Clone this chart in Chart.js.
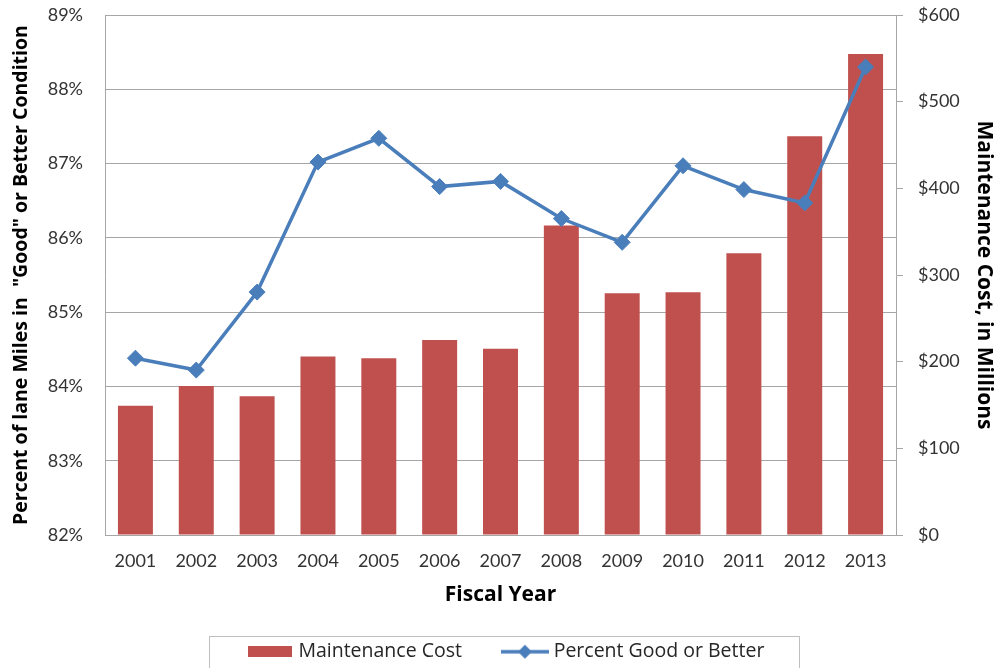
<!DOCTYPE html>
<html>
<head>
<meta charset="utf-8">
<title>Maintenance Cost and Lane Mile Condition</title>
<script src="https://cdn.jsdelivr.net/npm/chart.js@4.4.0/dist/chart.umd.min.js"></script>
<style>
  body { margin: 0; background: #fff; }
  canvas { display: block; }
</style>
</head>
<body>
<canvas id="conditionChart" width="996" height="668"></canvas>
<script>
const years = ["2001", "2002", "2003", "2004", "2005", "2006", "2007", "2008", "2009", "2010", "2011", "2012", "2013"];
const maintenanceCost = [149, 172, 160, 206, 204, 225, 215, 357, 279, 280, 325, 460, 555];
const percentGood = [84.38, 84.22, 85.27, 87.02, 87.34, 86.69, 86.76, 86.26, 85.94, 86.97, 86.65, 86.47, 88.30];
const percentRange = [82, 89];
const costRange = [0, 600];

const barColor = "#C0504D";
const lineColor = "#4A7EBB";
const gridColor = "#A6A6A6";

// small swatches for the legend: a plain bar block and a line with a diamond
const makeSwatch = (w, h, draw) => {
  const c = document.createElement("canvas");
  c.width = w;
  c.height = h;
  draw(c.getContext("2d"));
  return c;
};
const barSwatch = makeSwatch(44, 11, ctx => {
  ctx.fillStyle = barColor;
  ctx.fillRect(0, 0, 44, 11);
});
const lineSwatch = makeSwatch(48, 18, ctx => {
  ctx.strokeStyle = lineColor;
  ctx.lineWidth = 3.5;
  ctx.beginPath();
  ctx.moveTo(0, 9);
  ctx.lineTo(48, 9);
  ctx.stroke();
  ctx.fillStyle = lineColor;
  ctx.beginPath();
  ctx.moveTo(24, 2);
  ctx.lineTo(31, 9);
  ctx.lineTo(24, 16);
  ctx.lineTo(17, 9);
  ctx.closePath();
  ctx.fill();
});

// thin grey frame round the legend entries
const legendFrame = {
  id: "legendFrame",
  afterDraw(chart) {
    const boxes = chart.legend && chart.legend.legendHitBoxes;
    if (!boxes || !boxes.length) return;
    const first = boxes[0];
    const last = boxes[boxes.length - 1];
    const left = Math.round(first.left - 42) + 0.5;
    const right = Math.round(last.left + last.width + 35) + 0.5;
    const top = Math.round(first.top - 6) + 0.5;
    const ctx = chart.ctx;
    ctx.save();
    ctx.strokeStyle = "#BFBFBF";
    ctx.lineWidth = 1;
    ctx.strokeRect(left, top, right - left, 80);
    ctx.restore();
  }
};

// keep the plot area flush with the layout padding
const noVerticalPad = scale => {
  scale.paddingTop = 0;
  scale.paddingBottom = 0;
};

const tickFont = { family: "Lato", size: 18 };
const titleFont = { family: "Open Sans", size: 21, weight: "bold" };

new Chart(document.getElementById("conditionChart"), {
  type: "bar",
  data: {
    labels: years,
    datasets: [
      {
        type: "bar",
        label: "Maintenance Cost",
        data: maintenanceCost,
        backgroundColor: barColor,
        yAxisID: "yCost",
        barPercentage: 0.575,
        categoryPercentage: 1,
        order: 2
      },
      {
        type: "line",
        label: "Percent Good or Better",
        data: percentGood,
        borderColor: lineColor,
        backgroundColor: lineColor,
        borderWidth: 3.5,
        pointStyle: "rectRot",
        pointRadius: 8,
        pointBorderWidth: 1,
        tension: 0,
        yAxisID: "yPercent",
        order: 1
      }
    ]
  },
  plugins: [legendFrame],
  options: {
    responsive: false,
    animation: false,
    layout: { padding: { top: 15, left: 19, right: 0, bottom: 0 } },
    plugins: {
      tooltip: { enabled: false },
      legend: {
        position: "bottom",
        maxHeight: 70,
        labels: {
          usePointStyle: true,
          pointStyleWidth: 38,
          padding: 44,
          color: "#262626",
          font: { family: "Open Sans", size: 19.5 },
          sort: (a, b) => a.datasetIndex - b.datasetIndex,
          generateLabels: chart => {
            const items = Chart.defaults.plugins.legend.labels.generateLabels(chart);
            items.forEach(item => {
              item.pointStyle = item.datasetIndex === 0 ? barSwatch : lineSwatch;
            });
            return items;
          }
        }
      }
    },
    scales: {
      x: {
        offset: true,
        grid: { display: false },
        border: { color: gridColor },
        ticks: { color: "#333", font: tickFont, padding: 7, maxRotation: 0 },
        title: { display: true, text: "Fiscal Year", color: "#000", font: titleFont, padding: { top: 0, bottom: -10 } },
        afterFit: scale => { scale.height = 63; }
      },
      yPercent: {
        position: "left",
        min: percentRange[0],
        max: percentRange[1],
        grid: { color: gridColor, drawTicks: false },
        border: { color: gridColor },
        ticks: { stepSize: 1, padding: 22, color: "#333", font: tickFont, callback: v => v + "%" },
        title: {
          display: true,
          text: 'Percent of lane Miles in  "Good" or Better Condition',
          color: "#000",
          font: { family: "Open Sans", size: 19.5, weight: "bold" },
          padding: { top: -9, bottom: 0 }
        },
        afterFit: scale => {
          scale.width = 86;
          noVerticalPad(scale);
        }
      },
      yCost: {
        position: "right",
        min: costRange[0],
        max: costRange[1],
        grid: { drawOnChartArea: false, drawTicks: true, tickLength: 7, color: gridColor },
        border: { color: gridColor },
        ticks: { stepSize: 100, padding: 15, color: "#333", font: tickFont, callback: v => "$" + v },
        title: {
          display: true,
          text: "Maintenance Cost, in Millions",
          color: "#000",
          font: titleFont,
          padding: { top: -1, bottom: 0 }
        },
        afterFit: scale => {
          scale.width = 100;
          noVerticalPad(scale);
        }
      }
    }
  }
});
</script>
</body>
</html>
